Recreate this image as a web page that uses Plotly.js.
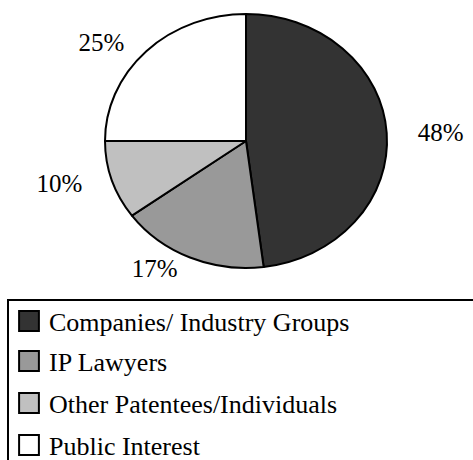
<!DOCTYPE html>
<html>
<head>
<meta charset="utf-8">
<script src="https://cdn.plot.ly/plotly-3.0.1.min.js"></script>
<style>
html, body { margin: 0; padding: 0; background: #fff; }
</style>
</head>
<body>
<div id="chart" style="width:473px;height:460px"></div>
<script>
// Data
const categories = ["Companies/ Industry Groups", "IP Lawyers", "Other Patentees/Individuals", "Public Interest"];
const shares = [48, 17, 10, 25];
const sliceColors = ["#333333", "#999999", "#c0c0c0", "#ffffff"];

const W = 473, H = 460;
const FONT = "Times New Roman";

const traces = [{
  type: "pie",
  labels: categories,
  values: shares,
  sort: false,
  direction: "clockwise",
  rotation: 0,
  marker: { colors: sliceColors, line: { color: "#000", width: 2 } },
  textinfo: "percent",
  textposition: "outside",
  textfont: { family: FONT, size: 25, color: "#000" },
  outsidetextfont: { family: FONT, size: 25, color: "#000" },
  domain: { x: [104 / W, 388 / W], y: [0.387, 1] },
  hoverinfo: "none"
}];

const chartLayout = {
  width: W, height: H,
  margin: { l: 0, r: 0, t: 0, b: 0 },
  paper_bgcolor: "#fff",
  plot_bgcolor: "#fff",
  font: { family: FONT, color: "#000" },
  showlegend: true,
  legend: {
    x: 9 / W, xanchor: "left",
    y: 1 - 302 / H, yanchor: "top",
    font: { family: FONT, size: 26, color: "#000" },
    borderwidth: 0,
    bgcolor: "rgba(0,0,0,0)"
  },
  shapes: [{
    type: "rect", xref: "paper", yref: "paper",
    x0: 8 / W, x1: 1.05, y0: -0.1, y1: 1 - 300 / H,
    line: { color: "#000", width: 2 }, fillcolor: "rgba(0,0,0,0)", layer: "below"
  }]
};

const gd = document.getElementById("chart");
Plotly.newPlot(gd, traces, chartLayout, { displayModeBar: false }).then(function () {
  const cd = gd.calcdata[0];
  const cx = cd[0].cx, cy = cd[0].cy, r = cd[0].r;
  const s = 127 / r; // vertical squash to match the elliptical pie
  gd.querySelectorAll("g.slice path.surface").forEach(function (p) {
    p.setAttribute("transform", "translate(0," + (cy * (1 - s)) + ") scale(1," + s + ")");
    p.style.vectorEffect = "non-scaling-stroke";
  });
  const svgBox = gd.querySelector("svg.main-svg").getBoundingClientRect();
  gd.querySelectorAll("g.slice").forEach(function (g, i) {
    const t = g.querySelector("g.slicetext");
    if (!t || !cd[i] || !cd[i].pxmid) return;
    const mx = cd[i].pxmid[0], my = cd[i].pxmid[1];
    const len = Math.sqrt(mx * mx + my * my) || 1;
    const b = t.getBoundingClientRect();
    const w = b.width, h = b.height;
    const curX = b.left - svgBox.left + w / 2, curY = b.top - svgBox.top + h / 2;
    const tx = cx + mx * 1.22 + Math.sign(mx) * w / 2;
    const ty = cy + my * s * 1.04 + 0.25 * h * (my / len);
    t.setAttribute("transform", "translate(" + (tx - curX) + "," + (ty - curY) + ") " + (t.getAttribute("transform") || ""));
  });
  gd.querySelectorAll("g.legendpoints path").forEach(function (p) {
    p.setAttribute("transform", (p.getAttribute("transform") || "") + " scale(1.65)");
    p.style.vectorEffect = "non-scaling-stroke";
  });
  const rowY = [19, 59, 101, 143];
  gd.querySelectorAll("g.legend g.traces").forEach(function (g, i) {
    const m = /translate\(([-\d.]+)[ ,]+([-\d.]+)\)/.exec(g.getAttribute("transform") || "");
    const x = m ? parseFloat(m[1]) : 0;
    if (i < rowY.length) g.setAttribute("transform", "translate(" + x + "," + rowY[i] + ")");
  });
});
</script>
</body>
</html>
